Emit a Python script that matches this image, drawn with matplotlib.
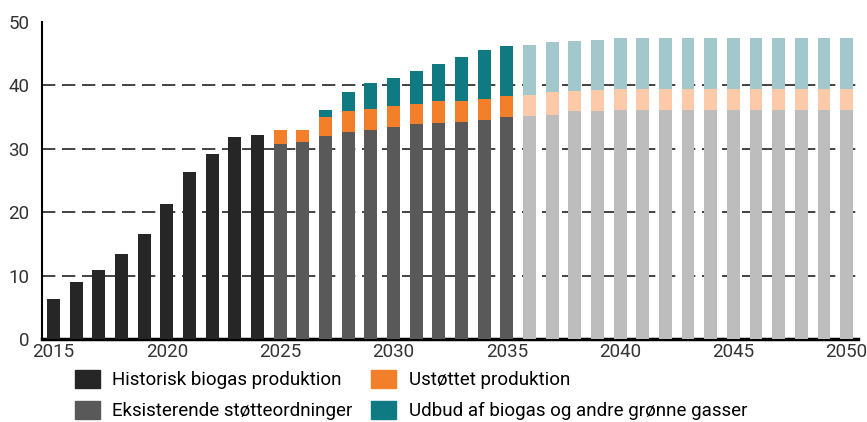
import matplotlib.pyplot as plt
from matplotlib.patches import Patch
import numpy as np

plt.rcParams['font.family'] = ['Roboto', 'DejaVu Sans']

years = list(range(2015, 2051))

# Historisk produktion 2015-2024
historisk = [6.3, 9.0, 10.9, 13.4, 16.6, 21.3, 26.3, 29.2, 31.9, 32.2]

# Fremskrivning 2025-2050
eksisterende = [30.8, 31.0, 32.0, 32.6, 33.0, 33.4, 33.9, 34.1, 34.2, 34.6, 35.0,
                35.2, 35.4, 35.9, 35.9,
                36.1, 36.1, 36.1, 36.1, 36.1, 36.1, 36.1, 36.1, 36.1, 36.1, 36.1]
ustottet = [2.1, 2.0, 3.0, 3.3, 3.3, 3.3, 3.2, 3.4, 3.3, 3.3, 3.3,
            3.3, 3.5, 3.2, 3.4,
            3.4, 3.4, 3.4, 3.4, 3.4, 3.4, 3.4, 3.4, 3.4, 3.4, 3.4]
udbud = [0.0, 0.0, 1.1, 3.0, 4.1, 4.5, 5.1, 5.8, 6.9, 7.7, 7.9,
         7.9, 7.9, 7.9, 7.9,
         7.9, 7.9, 7.9, 7.9, 7.9, 7.9, 7.9, 7.9, 7.9, 7.9, 7.9]

hist_years = years[:len(historisk)]
frem_years = years[len(historisk):]

# farver - lysere efter 2035
def farve(y, mork, lys):
    return mork if y <= 2035 else lys

c_eks = [farve(y, "#595959", "#bdbdbd") for y in frem_years]
c_ust = [farve(y, "#f47f2a", "#fccaa8") for y in frem_years]
c_udb = [farve(y, "#107a82", "#a3c8cc") for y in frem_years]

fig = plt.figure(figsize=(8.67, 4.22), dpi=100)
ax = fig.add_axes([0.0484, 0.1967, 0.9412, 0.7512])

bw = 0.57
ax.bar(hist_years, historisk, width=bw, color="#262626", zorder=3)
ax.bar(frem_years, eksisterende, width=bw, color=c_eks, zorder=3)
bund = np.array(eksisterende)
ax.bar(frem_years, ustottet, width=bw, bottom=bund, color=c_ust, zorder=3)
bund = bund + np.array(ustottet)
ax.bar(frem_years, udbud, width=bw, bottom=bund, color=c_udb, zorder=3)

ax.set_xlim(2014.49, 2050.5)
ax.set_ylim(0, 50)
ax.set_yticks([0, 10, 20, 30, 40, 50])
ax.set_xticks([2015, 2020, 2025, 2030, 2035, 2040, 2045, 2050])
ax.tick_params(axis='both', length=0, labelsize=13.5, labelcolor="#333333")
ax.tick_params(axis='y', pad=9)
ax.tick_params(axis='x', pad=3)

for y in [10, 20, 30, 40]:
    ax.axhline(y, color="#222222", lw=1.2, ls=(0, (8, 4)), zorder=1)

for s in ["top", "right"]:
    ax.spines[s].set_visible(False)
ax.spines["left"].set_linewidth(1.5)
ax.spines["bottom"].set_linewidth(2.5)

handles = [Patch(color="#262626", label="Historisk biogas produktion"),
           Patch(color="#595959", label="Eksisterende støtteordninger"),
           Patch(color="#f47f2a", label="Ustøttet produktion"),
           Patch(color="#107a82", label="Udbud af biogas og andre grønne gasser")]
fig.legend(handles=handles, ncol=2, loc="upper left", bbox_to_anchor=(0.086, 0.123),
           frameon=False, fontsize=13.5, handlelength=1.35, handleheight=1.1,
           columnspacing=1.0, labelspacing=0.62, handletextpad=0.65,
           borderaxespad=0, borderpad=0)

fig.savefig("out.png", dpi=100)
